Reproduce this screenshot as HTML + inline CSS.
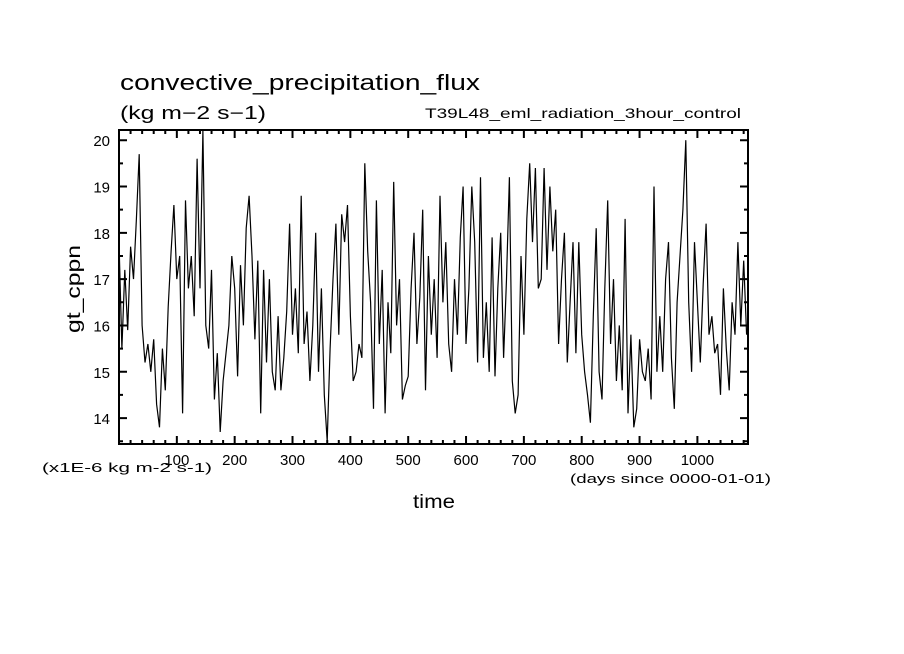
<!DOCTYPE html>
<html><head><meta charset="utf-8"><style>
html,body{margin:0;padding:0;background:#fff;width:904px;height:654px;overflow:hidden}
svg{display:block;font-family:"Liberation Sans","DejaVu Sans",sans-serif}
</style></head><body>
<svg id="chart" width="904" height="654" viewBox="0 0 904 654" xmlns="http://www.w3.org/2000/svg">
<rect width="904" height="654" fill="#fff"/>
<text x="120" y="90" font-size="22" textLength="360" lengthAdjust="spacingAndGlyphs">convective_precipitation_flux</text>
<text x="120" y="119" font-size="18" textLength="146" lengthAdjust="spacingAndGlyphs">(kg m−2 s−1)</text>
<text x="425" y="118" font-size="14" textLength="316" lengthAdjust="spacingAndGlyphs">T39L48_eml_radiation_3hour_control</text>
<text x="0" y="0" font-size="19" text-anchor="middle" textLength="88" lengthAdjust="spacingAndGlyphs" transform="translate(80,289) rotate(-90)">gt_cppn</text>
<text x="413" y="508" font-size="19" textLength="42" lengthAdjust="spacingAndGlyphs">time</text>
<text x="42" y="472" font-size="13" textLength="170" lengthAdjust="spacingAndGlyphs">(x1E-6 kg m-2 s-1)</text>
<text x="570" y="483" font-size="13" textLength="201" lengthAdjust="spacingAndGlyphs">(days since 0000-01-01)</text>
<g id="plot"></g>
</svg>
<script>
const days = [];
for (let d = 0; d <= 1085; d += 5) days.push(d);
const precip = [
17.8,15.5,17.2,15.9,17.7,17.0,18.3,19.7,16.0,15.2,15.6,15.0,15.7,14.3,13.8,15.5,14.6,16.4,17.6,18.6,17.0,17.5,14.1,18.7,16.8,17.5,16.2,19.6,16.8,20.2,16.0,15.5,17.2,14.4,15.4,13.7,14.8,
15.4,16.0,17.5,16.8,14.9,17.3,16.0,18.1,18.8,17.5,15.7,17.4,14.1,17.2,15.2,17.0,15.0,14.6,16.2,14.6,15.3,16.3,18.2,15.8,16.8,15.4,18.8,15.6,16.3,14.8,16.0,18.0,15.0,16.8,14.5,13.5,15.5,
17.0,18.2,15.8,18.4,17.8,18.6,16.2,14.8,15.0,15.6,15.3,19.5,17.6,16.5,14.2,18.7,15.6,17.2,14.1,16.5,15.4,19.1,16.0,17.0,14.4,14.7,14.9,16.8,18.0,15.6,16.6,18.5,14.6,17.5,15.8,17.0,
15.3,18.8,16.5,17.8,15.6,15.0,17.0,15.8,17.9,19.0,15.6,16.8,19.0,17.8,15.2,19.2,15.3,16.5,15.0,17.9,14.9,16.8,18.0,15.3,17.0,19.2,14.8,14.1,14.5,17.5,15.8,18.3,19.5,17.8,19.4,16.8,
17.0,19.4,17.2,19.0,17.6,18.5,15.6,17.0,18.0,15.2,16.5,17.8,15.4,17.8,15.8,15.0,14.5,13.9,16.2,18.1,15.0,14.4,16.8,18.7,15.6,17.0,14.8,16.0,14.6,18.3,14.1,15.8,13.8,14.2,15.7,15.0,
14.8,15.5,14.4,19.0,15.0,16.2,15.0,17.0,17.8,15.3,14.2,16.5,17.5,18.5,20.0,16.5,15.0,17.8,16.5,15.2,16.9,18.2,15.8,16.2,15.4,15.6,14.5,16.8,15.5,14.6,16.5,15.8,17.8,16.0,17.4,15.8
];
const yTicks = [14,15,16,17,18,19,20];
const xTicks = [100,200,300,400,500,600,700,800,900,1000];
const L=119, R=748, T=130, B=444;
const X0=0, X1=1087.5, Y0=13.44, Y1=20.22;
const sx = d => L + (d - X0) / (X1 - X0) * (R - L);
const sy = v => B - (v - Y0) / (Y1 - Y0) * (B - T);
const NS="http://www.w3.org/2000/svg";
const g=document.getElementById('plot');
function mk(tag, attrs){const e=document.createElementNS(NS,tag);for(const k in attrs)e.setAttribute(k,attrs[k]);g.appendChild(e);return e;}
let d="";
const n=Math.min(days.length,precip.length);
for(let i=0;i<n;i++){const px=Math.min(R,Math.max(L,sx(days[i])));const py=Math.min(B,Math.max(T,sy(precip[i])));d+=(i?"L":"M")+px.toFixed(1)+","+py.toFixed(1);}
const line=mk('path',{d:d,fill:'none',stroke:'#000','stroke-width':1.2});


const fr=mk('rect',{x:L,y:T,width:R-L,height:B-T,fill:'none',stroke:'#000','stroke-width':2});


let tp="";
for(let v=20; v<=1080; v+=20){const px=sx(v);const len=(v%100===0)?8:4;tp+=`M${px},${B}v${-len}M${px},${T}v${len}`;}
for(let v=13.5; v<=20.01; v+=0.5){const py=sy(v);const len=(Math.abs(v-Math.round(v))<1e-6)?8:4;tp+=`M${L},${py}h${len}M${R},${py}h${-len}`;}
const tk=mk('path',{d:tp,stroke:'#000','stroke-width':2,fill:'none'});


xTicks.forEach(v=>{const t=mk('text',{x:sx(v),y:465,'font-size':15,'text-anchor':'middle'});t.textContent=v;

});
yTicks.forEach(v=>{const t=mk('text',{x:110,y:sy(v)+6,'font-size':15,'text-anchor':'end'});t.textContent=v;

});
</script>
</body></html>
